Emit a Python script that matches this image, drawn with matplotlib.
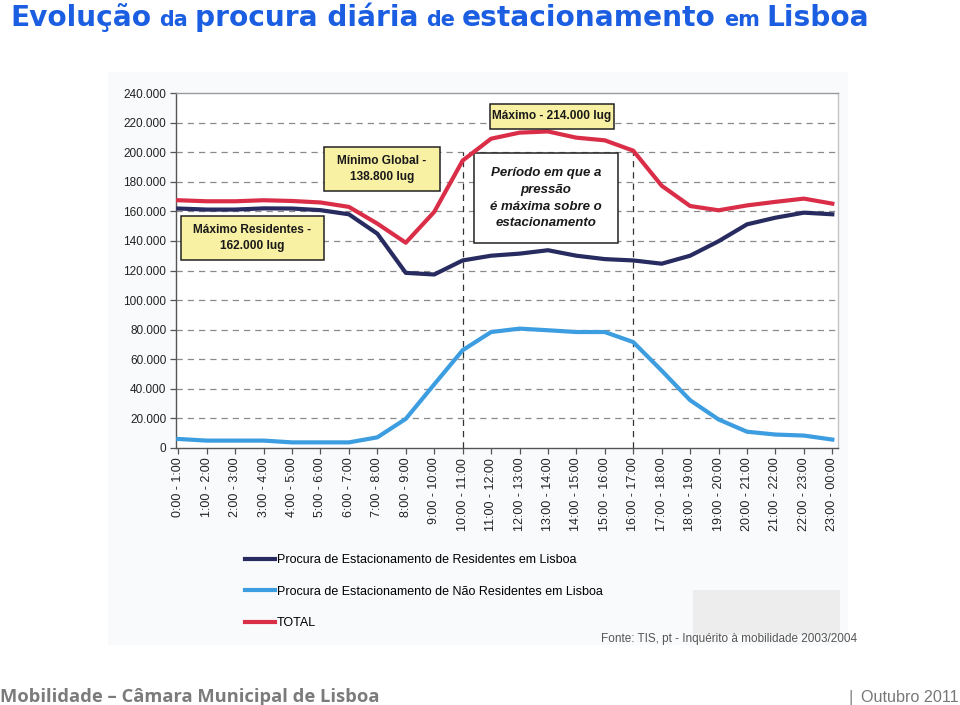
import matplotlib
matplotlib.use("Agg")
import matplotlib.pyplot as plt
from matplotlib import font_manager
from matplotlib.patches import Rectangle
from matplotlib.lines import Line2D

# --- data (values in lugares) ---
hour_labels = ["0:00 - 1:00", "1:00 - 2:00", "2:00 - 3:00", "3:00 - 4:00",
               "4:00 - 5:00", "5:00 - 6:00", "6:00 - 7:00", "7:00 - 8:00",
               "8:00 - 9:00", "9:00 - 10:00", "10:00 - 11:00", "11:00 - 12:00",
               "12:00 - 13:00", "13:00 - 14:00", "14:00 - 15:00", "15:00 - 16:00",
               "16:00 - 17:00", "17:00 - 18:00", "18:00 - 19:00", "19:00 - 20:00",
               "20:00 - 21:00", "21:00 - 22:00", "22:00 - 23:00", "23:00 - 00:00"]
residentes = [161900, 161200, 161200, 162000, 161900, 160800, 158000, 144900,
              118400, 117300, 126800, 130000, 131400, 133700, 130000, 127700,
              126800, 124600, 130000, 139800, 151200, 155700, 159100, 158000]
nao_residentes = [6100, 5000, 5000, 5000, 3800, 3800, 3800, 7200,
                  19700, 43000, 66100, 78400, 80700, 79600, 78400, 78400,
                  71600, 52300, 32300, 19300, 11000, 9100, 8400, 5700]
total = [167500, 166800, 166800, 167500, 167000, 166000, 163000, 151700,
         138800, 159600, 194300, 209100, 213200, 214000, 209800, 208000,
         201000, 177300, 163600, 160700, 164000, 166400, 168600, 165200]
series_names = ["Procura de Estacionamento de Residentes em Lisboa",
                "Procura de Estacionamento de Não Residentes em Lisboa",
                "TOTAL"]
peak_start, peak_end = 10, 16   # categories bounding the peak period
y_ticks = list(range(0, 240001, 20000))

C_RES = "#272b60"
C_NRES = "#3c9de0"
C_TOT = "#da2e48"
C_TITLE = "#1b5ee2"
YELLOW = "#f8f0a2"

names = {f.name for f in font_manager.fontManager.ttflist}
NARROW = "Liberation Sans Narrow" if "Liberation Sans Narrow" in names else "Liberation Sans"
plt.rcParams["font.family"] = ["Liberation Sans", "DejaVu Sans"]

W, H = 960, 705
fig = plt.figure(figsize=(W / 100, H / 100), dpi=100)
renderer = fig.canvas.get_renderer()


def fx(x):
    return x / W


def fy(y):
    return 1 - y / H


# faint scan background, kept behind the axes
fig.patches.append(Rectangle((fx(108), fy(645)), fx(740), 573 / H, transform=fig.transFigure,
                             facecolor="#f9fafb", edgecolor="none", zorder=-5))
fig.patches.append(Rectangle((fx(693), fy(635)), fx(147), 45 / H, transform=fig.transFigure,
                             facecolor="#ededed", edgecolor="none", zorder=-5))

ax = fig.add_axes([fx(176), fy(448), fx(662), 355 / H])
ax.set_facecolor("white")
x = list(range(len(hour_labels)))

ax.plot(x, residentes, color=C_RES, lw=3, solid_joinstyle="round", zorder=4)
ax.plot(x, nao_residentes, color=C_NRES, lw=3, solid_joinstyle="round", zorder=4)
ax.plot(x, total, color=C_TOT, lw=3, solid_joinstyle="round", zorder=4)

ax.set_xlim(-0.08, 23.2)
ax.set_ylim(0, 240000)
ax.set_yticks(y_ticks)
ax.set_yticklabels([f"{v:,.0f}".replace(",", ".") for v in y_ticks], fontsize=8.5, color="#222222")
ax.set_xticks(x)
ax.set_xticklabels(hour_labels, rotation=90, fontsize=9, color="#222222")
ax.tick_params(axis="both", length=4, width=0.9, color="#555555", pad=3)
for yv in y_ticks[1:-1]:
    ax.axhline(yv, color="#8a8a8a", lw=0.9, ls=(0, (5, 4)), zorder=1)
for xv in (peak_start, peak_end):
    ax.plot([xv, xv], [0, 200000], color="#333333", lw=0.9, ls=(0, (5, 4)), zorder=2)
ax.spines["left"].set_color("#555555")
ax.spines["bottom"].set_color("#555555")
ax.spines["top"].set_color("#9a9a9a")
ax.spines["right"].set_color("#c4c4c4")
for s in ax.spines.values():
    s.set_linewidth(1.0)


def note_box(x0, x1, y0, y1, text, face, style="normal", size=8.6, lsp=1.45, z=5):
    ax.add_patch(Rectangle((x0, y0), x1 - x0, y1 - y0, facecolor=face, edgecolor="#222222",
                           lw=1.1, zorder=z, clip_on=False))
    ax.text((x0 + x1) / 2, (y0 + y1) / 2, text, ha="center", va="center", fontsize=size,
            fontweight="bold", fontstyle=style, family=NARROW, color="#1a1a1a",
            linespacing=lsp, zorder=z + 1, clip_on=False)


note_box(0.1, 5.12, 127100, 156800, "Máximo Residentes -\n162.000 lug", YELLOW)
note_box(5.12, 9.21, 173700, 203500, "Mínimo Global -\n138.800 lug", YELLOW)
note_box(10.96, 15.32, 215700, 232600, "Máximo - 214.000 lug", YELLOW)
note_box(10.4, 15.46, 138600, 199400,
         "Período em que a\npressão\né máxima sobre o\nestacionamento",
         "white", style="italic", size=9.5, lsp=1.55, z=3)

handles = [Line2D([], [], color=c, lw=3) for c in (C_RES, C_NRES, C_TOT)]
fig.legend(handles, series_names, loc="upper left", bbox_to_anchor=(fx(240), fy(549)),
           frameon=False, fontsize=9, handlelength=2.4, handletextpad=0.15,
           labelspacing=1.58, borderaxespad=0)

fig.text(fx(857), fy(642), "Fonte: TIS, pt - Inquérito à mobilidade 2003/2004",
         ha="right", va="baseline", fontsize=8.5, color="#555555")


def fitted(xpx, ypx, s, width, size, ha="left", **kw):
    t = fig.text(fx(xpx), fy(ypx), s, ha=ha, va="baseline", fontsize=size, **kw)
    w = t.get_window_extent(renderer).width
    t.set_fontsize(size * width / w)
    return t


# title: small connecting words in a reduced size
title_parts = [("Evolução", 1.0), ("da", 0.74), ("procura diária", 1.0), ("de", 0.74),
               ("estacionamento", 1.0), ("em", 0.74), ("Lisboa", 1.0)]


def draw_title(base):
    xpos, items = 10.0, []
    for word, rel in title_parts:
        t = fig.text(fx(xpos), fy(26), word, ha="left", va="baseline", fontsize=base * rel,
                     fontweight="bold", color=C_TITLE, family="DejaVu Sans")
        w = t.get_window_extent(renderer).width
        items.append(t)
        xpos += w + base * rel * 0.42
    return items, xpos - base * 0.42


items, end = draw_title(19)
for t in items:
    t.remove()
draw_title(19 * (868 - 10) / (end - 10))

fitted(0, 702, "Mobilidade – Câmara Municipal de Lisboa", 375, 13,
       fontweight="bold", color="#7b7b7b", family="Open Sans")
fitted(959, 702, "Outubro 2011", 97, 13, ha="right", color="#777777", family=NARROW)
fig.text(fx(851), fy(702), "|", ha="center", va="baseline", fontsize=12, color="#888888")

fig.savefig("out.png", dpi=100)
